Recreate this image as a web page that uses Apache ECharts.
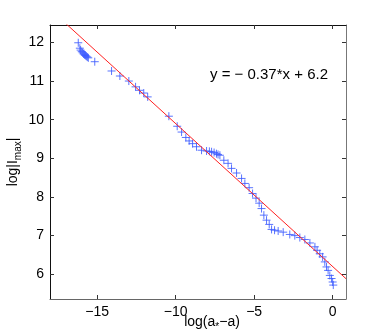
<!DOCTYPE html>
<html><head><meta charset="utf-8">
<script src="https://cdn.jsdelivr.net/npm/echarts@6/dist/echarts.min.js"></script>
<style>html,body{margin:0;padding:0;background:#fff}#c{width:382px;height:336px}</style>
</head><body><div id="c"></div>
<script>
var xVals = [-16.2,-16.1,-16.05,-15.98,-15.92,-15.86,-15.8,-15.74,-15.68,-15.62,-15.56,-15.15,-14.08,-13.55,-12.98,-12.55,-12.3,-12.03,-11.78,-10.43,-9.9,-9.62,-9.35,-9.14,-8.92,-8.67,-8.35,-8.03,-7.85,-7.71,-7.55,-7.4,-7.3,-7.18,-6.93,-6.66,-6.44,-6.12,-5.8,-5.59,-5.32,-5.1,-4.88,-4.68,-4.53,-4.38,-4.21,-4.04,-3.89,-3.7,-3.47,-3.15,-2.73,-2.41,-2.09,-1.77,-1.45,-1.13,-0.99,-0.82,-0.64,-0.5,-0.39,-0.29,-0.18,-0.07,0.0,0.04];
var yVals = [11.99,11.85,11.8,11.76,11.73,11.7,11.68,11.66,11.64,11.62,11.6,11.5,11.26,11.13,11.0,10.85,10.76,10.69,10.59,10.09,9.83,9.68,9.54,9.45,9.38,9.3,9.21,9.19,9.18,9.17,9.15,9.12,9.1,9.08,8.95,8.87,8.74,8.62,8.48,8.35,8.24,8.09,7.97,7.84,7.7,7.53,7.4,7.29,7.16,7.14,7.12,7.09,7.03,7.0,6.95,6.9,6.81,6.71,6.62,6.53,6.45,6.32,6.19,6.1,5.97,5.89,5.8,5.72];
var fitX = [-18, 0.85];
var fitY = [12.86, 5.8855];
var xTicks = [-15,-10,-5,0];
var yTicks = [6,7,8,9,10,11,12];
var equation = 'y = \u2212 0.37*x + 6.2';

var pts = xVals.map(function(x,i){return [x,yVals[i]];});
var fit = fitX.map(function(x,i){return [x,fitY[i]];});
var FONT = 'Liberation Sans, Arial, Helvetica, sans-serif';
function fmt(v){return String(v).replace('-', '\u2212');}
var chart = echarts.init(document.getElementById('c'));
var xr=[-18,0.85], yr=[5.36,12.45];
function ax(pos, show, r, ticks, lineColor){
  return {type:'value', position:pos, min:r[0], max:r[1], scale:true,
    axisLine:{show:true,onZero:false,lineStyle:{color:lineColor,width:1}},
    axisTick:{show:true,inside:true,length:4,customValues:ticks,lineStyle:{color:'#333'}},
    axisLabel:{show:show,customValues:ticks,formatter:fmt,color:'#000',fontSize:14,fontFamily:FONT,margin:6},
    splitLine:{show:false}};
}
chart.setOption({
  animation:false,
  grid:{left:50,top:25,right:36,bottom:37,containLabel:false},
  xAxis:[ax('bottom',true,xr,xTicks,'#666'), ax('top',false,xr,xTicks,'#111')],
  yAxis:[ax('left',true,yr,yTicks,'#111'), ax('right',false,yr,yTicks,'#777')],
  series:[
    {type:'line', data:fit, symbol:'none', lineStyle:{color:'#ff2020',width:1}, clip:true, z:3},
    {type:'scatter', data:pts, symbol:'path://M0,5L10,5M5,0L5,10', symbolSize:8,
     itemStyle:{color:'none',borderColor:'#3d5cff',borderWidth:1,opacity:0.85}, z:2}
  ],
  graphic:[
    {type:'text', left:210, top:67, style:{text:equation, fontSize:15, fontFamily:FONT, fill:'#000'}},
    {type:'text', x:212, y:322, style:{text:'log(a{s|*}\u2212a)', fontSize:14, fontFamily:FONT, fill:'#000', align:'center', verticalAlign:'middle', lineHeight:20,
      rich:{s:{fontSize:10, fontFamily:FONT, verticalAlign:'bottom', lineHeight:10}}}},
    {type:'text', x:13, y:162, rotation:Math.PI/2, style:{text:'log|I{s|max}|', fontSize:14, fontFamily:FONT, fill:'#000', align:'center', verticalAlign:'middle', lineHeight:20,
      rich:{s:{fontSize:10, fontFamily:FONT, verticalAlign:'bottom', lineHeight:10}}}}
  ]
});
</script></body></html>
